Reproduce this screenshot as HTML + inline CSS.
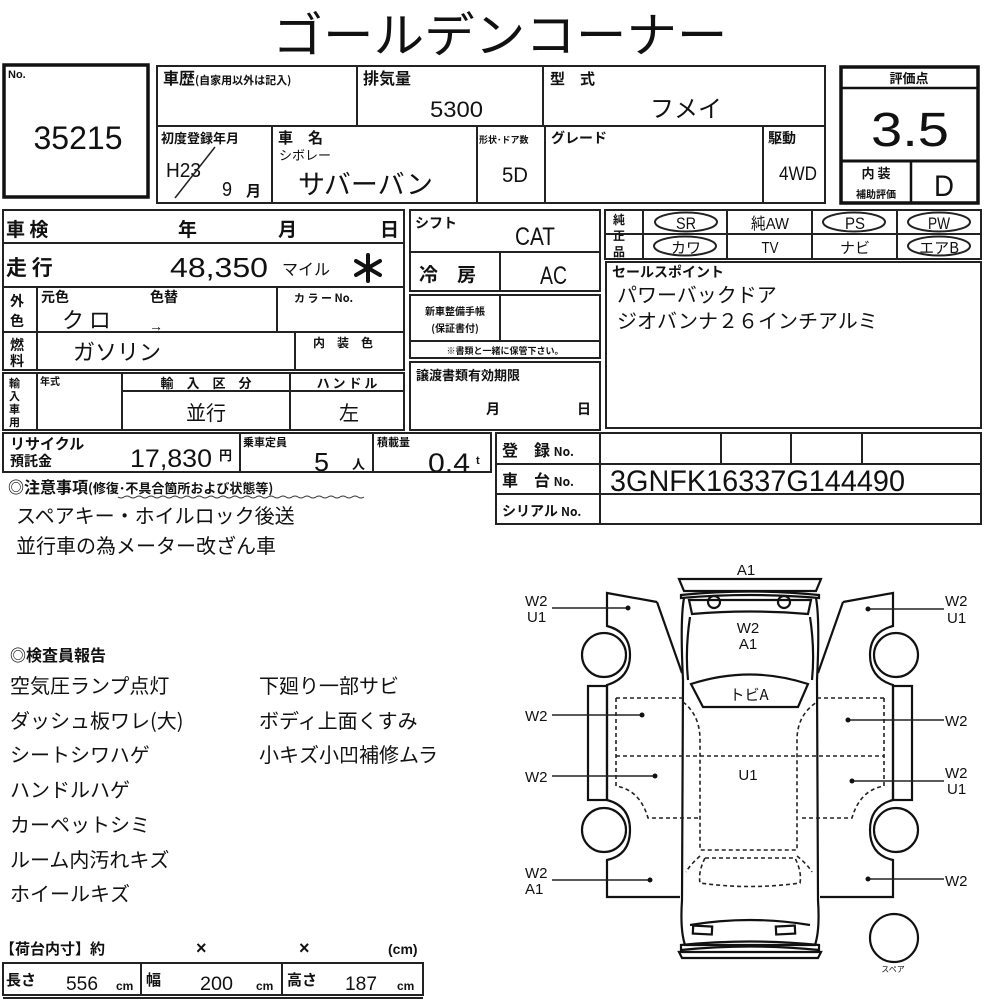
<!DOCTYPE html>
<html><head><meta charset="utf-8"><style>
html,body{margin:0;padding:0;background:#fff;}
svg{display:block;}
text{font-family:"Liberation Sans","Noto Sans CJK JP",sans-serif;fill:#111;}
.j{font-family:"Noto Sans CJK JP",sans-serif;}
.b{font-weight:bold;}
.n{font-family:"Liberation Sans","Noto Sans CJK JP",sans-serif;}
.l{fill:none;stroke:#222;stroke-width:2;}
.t{fill:none;stroke:#111;stroke-width:3.5;}
.d{fill:none;stroke:#222;stroke-width:1.6;stroke-dasharray:4 3;}
</style></head><body>
<svg width="1000" height="1000" viewBox="0 0 1000 1000" xmlns="http://www.w3.org/2000/svg">
<text x="500" y="52" text-anchor="middle" font-size="48" class="j" textLength="455" lengthAdjust="spacingAndGlyphs">ゴールデンコーナー</text>

<rect x="4" y="65" width="144" height="132" class="t"/>
<text x="8" y="78" font-size="11" class="b">No.</text>
<text x="78" y="149" font-size="32" text-anchor="middle">35215</text>

<rect x="157" y="66" width="668" height="137" class="l"/>
<line x1="157" y1="126" x2="825" y2="126" class="l"/>
<line x1="357" y1="66" x2="357" y2="126" class="l"/>
<line x1="543" y1="66" x2="543" y2="126" class="l"/>
<line x1="272" y1="126" x2="272" y2="203" class="l"/>
<line x1="477" y1="126" x2="477" y2="203" class="l"/>
<line x1="545" y1="126" x2="545" y2="203" class="l"/>
<line x1="763" y1="126" x2="763" y2="203" class="l"/>
<text x="163" y="84" font-size="16" class="b j">車歴<tspan font-size="11">(自家用以外は記入)</tspan></text>
<text x="363" y="84" font-size="16" class="b j">排気量</text>
<text x="430" y="117" font-size="22" textLength="53" lengthAdjust="spacingAndGlyphs">5300</text>
<text x="550" y="84" font-size="15" class="b j">型　式</text>
<text x="650" y="117" font-size="24" class="j">フメイ</text>
<text x="161" y="143" font-size="13" class="b j">初度登録年月</text>
<text x="166" y="177" font-size="20" textLength="35" lengthAdjust="spacingAndGlyphs">H23</text>
<line x1="215" y1="147" x2="175" y2="198" stroke="#222" stroke-width="1.5"/>
<text x="222" y="196" font-size="20" textLength="10" lengthAdjust="spacingAndGlyphs">9</text>
<text x="246" y="196" font-size="15" class="b j">月</text>
<text x="278" y="143" font-size="15" class="b j">車　名</text>
<text x="279" y="160" font-size="13" class="j">シボレー</text>
<text x="298" y="194" font-size="27" class="j">サバーバン</text>
<text x="479" y="143" font-size="9" class="b j">形状･ドア数</text>
<text x="502" y="182" font-size="21" textLength="26" lengthAdjust="spacingAndGlyphs">5D</text>
<text x="551" y="143" font-size="14" class="b j">グレード</text>
<text x="768" y="143" font-size="14" class="b j">駆動</text>
<text x="779" y="180" font-size="19" textLength="38" lengthAdjust="spacingAndGlyphs">4WD</text>

<rect x="841" y="67" width="137" height="136" class="t"/>
<line x1="841" y1="88" x2="978" y2="88" stroke="#111" stroke-width="2.5"/>
<line x1="841" y1="161" x2="978" y2="161" stroke="#111" stroke-width="3"/>
<line x1="911" y1="161" x2="911" y2="203" stroke="#111" stroke-width="2.5"/>
<text x="909" y="83" font-size="13" text-anchor="middle" class="b j">評価点</text>
<text x="910" y="146" font-size="48" text-anchor="middle" textLength="78" lengthAdjust="spacingAndGlyphs">3.5</text>
<text x="876" y="178" font-size="13" text-anchor="middle" class="b j">内 装</text>
<text x="876" y="198" font-size="10" text-anchor="middle" class="b j">補助評価</text>
<text x="944" y="196" font-size="30" text-anchor="middle" textLength="20" lengthAdjust="spacingAndGlyphs">D</text>

<rect x="3" y="210" width="401" height="160" class="l"/>
<line x1="3" y1="243" x2="404" y2="243" class="l"/>
<line x1="3" y1="287" x2="404" y2="287" class="l"/>
<line x1="3" y1="332" x2="404" y2="332" class="l"/>
<line x1="37" y1="287" x2="37" y2="370" class="l"/>
<line x1="277" y1="287" x2="277" y2="332" class="l"/>
<line x1="295" y1="332" x2="295" y2="370" class="l"/>
<text x="6" y="236" font-size="19" class="b j">車 検</text>
<text x="178" y="236" font-size="19" class="b j">年</text>
<text x="278" y="236" font-size="19" class="b j">月</text>
<text x="380" y="236" font-size="19" class="b j">日</text>
<text x="6" y="275" font-size="21" class="b j">走 行</text>
<text x="170" y="277" font-size="28" textLength="98" lengthAdjust="spacingAndGlyphs">48,350</text>
<text x="282" y="275" font-size="16" class="j">マイル</text>
<g stroke="#111" stroke-width="4" stroke-linecap="round">
<line x1="368" y1="255" x2="368" y2="281"/>
<line x1="356" y1="261" x2="380" y2="275"/>
<line x1="356" y1="275" x2="380" y2="261"/>
</g>
<text x="10" y="306" font-size="14" class="b j">外</text>
<text x="10" y="326" font-size="14" class="b j">色</text>
<text x="41" y="302" font-size="14" class="b j">元色</text>
<text x="150" y="302" font-size="14" class="b j">色替</text>
<text x="62" y="328" font-size="22" class="j">ク ロ</text>
<text x="149" y="331" font-size="14" class="b">→</text>
<text x="294" y="302" font-size="11" class="b j">カ ラ ー No.</text>
<text x="10" y="350" font-size="14" class="b j">燃</text>
<text x="10" y="366" font-size="14" class="b j">料</text>
<text x="73" y="360" font-size="22" class="j">ガソリン</text>
<text x="313" y="347" font-size="12" class="b j">内　装　色</text>

<rect x="3" y="373" width="401" height="57" class="l"/>
<line x1="37" y1="373" x2="37" y2="430" class="l"/>
<line x1="122" y1="373" x2="122" y2="430" class="l"/>
<line x1="290" y1="373" x2="290" y2="430" class="l"/>
<line x1="122" y1="391" x2="404" y2="391" class="l"/>
<text x="9" y="387" font-size="11" class="b j">輸</text>
<text x="9" y="400" font-size="11" class="b j">入</text>
<text x="9" y="413" font-size="11" class="b j">車</text>
<text x="9" y="426" font-size="11" class="b j">用</text>
<text x="40" y="385" font-size="10" class="b j">年式</text>
<text x="206" y="388" font-size="13" text-anchor="middle" class="b j">輸　入　区　分</text>
<text x="347" y="388" font-size="13" text-anchor="middle" class="b j">ハ ン ド ル</text>
<text x="206" y="420" font-size="20" text-anchor="middle" class="j">並行</text>
<text x="349" y="420" font-size="20" text-anchor="middle" class="j">左</text>

<rect x="3" y="433" width="488" height="39" class="l"/>
<line x1="240" y1="433" x2="240" y2="472" class="l"/>
<line x1="373" y1="433" x2="373" y2="472" class="l"/>
<text x="10" y="449" font-size="15" class="b j">リサイクル</text>
<text x="10" y="466" font-size="14" class="b j">預託金</text>
<text x="130" y="467" font-size="25" textLength="82" lengthAdjust="spacingAndGlyphs">17,830</text>
<text x="219" y="460" font-size="13" class="b j">円</text>
<text x="243" y="446" font-size="11" class="b j">乗車定員</text>
<text x="314" y="471" font-size="26" textLength="15" lengthAdjust="spacingAndGlyphs">5</text>
<text x="352" y="469" font-size="13" class="b j">人</text>
<text x="377" y="446" font-size="11" class="b j">積載量</text>
<text x="428" y="472" font-size="27" textLength="42" lengthAdjust="spacingAndGlyphs">0.4</text>
<text x="476" y="464" font-size="11" class="b">t</text>

<rect x="410" y="210" width="190" height="81" class="l"/>
<line x1="410" y1="252" x2="600" y2="252" class="l"/>
<line x1="500" y1="252" x2="500" y2="291" class="l"/>
<text x="415" y="228" font-size="14" class="b j">シフト</text>
<text x="515" y="245" font-size="25" textLength="40" lengthAdjust="spacingAndGlyphs">CAT</text>
<text x="419" y="281" font-size="19" class="b j">冷　房</text>
<text x="540" y="284" font-size="25" textLength="27" lengthAdjust="spacingAndGlyphs">AC</text>
<rect x="410" y="295" width="190" height="63" class="l"/>
<line x1="410" y1="341" x2="600" y2="341" class="l"/>
<line x1="500" y1="295" x2="500" y2="341" class="l"/>
<text x="455" y="315" font-size="10" text-anchor="middle" class="b j">新車整備手帳</text>
<text x="455" y="332" font-size="10" text-anchor="middle" class="b j">(保証書付)</text>
<text x="505" y="354" font-size="9" text-anchor="middle" class="b j">※書類と一緒に保管下さい。</text>
<rect x="410" y="362" width="190" height="68" class="l"/>
<text x="416" y="380" font-size="13" class="b j">譲渡書類有効期限</text>
<text x="486" y="414" font-size="14" class="b j">月</text>
<text x="577" y="414" font-size="14" class="b j">日</text>

<rect x="605" y="210" width="376" height="49" class="l"/>
<line x1="605" y1="234" x2="981" y2="234" class="l"/>
<line x1="643" y1="210" x2="643" y2="259" class="l"/>
<line x1="727" y1="210" x2="727" y2="259" class="l"/>
<line x1="812" y1="210" x2="812" y2="259" class="l"/>
<line x1="897" y1="210" x2="897" y2="259" class="l"/>
<text x="613" y="224" font-size="12" class="b j">純</text>
<text x="613" y="240" font-size="12" class="b j">正</text>
<text x="613" y="256" font-size="12" class="b j">品</text>
<ellipse cx="686" cy="222" rx="31" ry="9.5" class="l" stroke-width="1.6"/>
<ellipse cx="854" cy="222" rx="31" ry="9.5" class="l" stroke-width="1.6"/>
<ellipse cx="939" cy="222" rx="31" ry="9.5" class="l" stroke-width="1.6"/>
<ellipse cx="685" cy="246" rx="31" ry="9.5" class="l" stroke-width="1.6"/>
<ellipse cx="939" cy="246" rx="31" ry="9.5" class="l" stroke-width="1.6"/>
<text x="686" y="229" font-size="17" text-anchor="middle" textLength="20" lengthAdjust="spacingAndGlyphs">SR</text>
<text x="770" y="229" font-size="16" text-anchor="middle" textLength="38" lengthAdjust="spacingAndGlyphs">純AW</text>
<text x="855" y="229" font-size="17" text-anchor="middle" textLength="20" lengthAdjust="spacingAndGlyphs">PS</text>
<text x="939" y="229" font-size="17" text-anchor="middle" textLength="22" lengthAdjust="spacingAndGlyphs">PW</text>
<text x="686" y="253" font-size="15" text-anchor="middle" class="j">カワ</text>
<text x="770" y="253" font-size="16" text-anchor="middle" textLength="17" lengthAdjust="spacingAndGlyphs">TV</text>
<text x="855" y="253" font-size="15" text-anchor="middle" class="j">ナビ</text>
<text x="939" y="253" font-size="15" text-anchor="middle" class="j">エアB</text>

<rect x="606" y="262" width="375" height="166" class="l"/>
<text x="612" y="277" font-size="14" class="b j">セールスポイント</text>
<text x="617" y="302" font-size="20" class="j">パワーバックドア</text>
<text x="617" y="328" font-size="20" class="j">ジオバンナ２６インチアルミ</text>

<rect x="496" y="433" width="485" height="91" class="l"/>
<line x1="496" y1="464" x2="981" y2="464" class="l"/>
<line x1="496" y1="494" x2="981" y2="494" class="l"/>
<line x1="600" y1="433" x2="600" y2="524" class="l"/>
<line x1="721" y1="433" x2="721" y2="464" class="l"/>
<line x1="791" y1="433" x2="791" y2="464" class="l"/>
<line x1="862" y1="433" x2="862" y2="464" class="l"/>
<text x="502" y="456" font-size="16" class="b j">登　録 <tspan font-size="12">No.</tspan></text>
<text x="502" y="486" font-size="16" class="b j">車　台 <tspan font-size="12">No.</tspan></text>
<text x="502" y="516" font-size="14" class="b j">シリアル <tspan font-size="12">No.</tspan></text>
<text x="610" y="491" font-size="30" textLength="295" lengthAdjust="spacingAndGlyphs">3GNFK16337G144490</text>

<text x="8" y="493" font-size="16" class="b j">◎注意事項<tspan font-size="13">(修復･不具合箇所および状態等)</tspan></text>
<path d="M118 497 q3 2 6 0 t6 0 t6 0 t6 0 t6 0 t6 0 t6 0 t6 0 t6 0 t6 0 t6 0 t6 0 t6 0 t6 0 t6 0 t6 0 t6 0 t6 0 t6 0 t6 0 t6 0 t6 0 t6 0 t6 0 t6 0 t6 0 t6 0 t6 0 t6 0 t6 0 t6 0 t6 0 t6 0 t6 0 t6 0 t6 0 t6 0 t6 0 t6 0 t6 0 t6 0" fill="none" stroke="#333" stroke-width="1"/>
<text x="16" y="523" font-size="20" class="j">スペアキー・ホイルロック後送</text>
<text x="16" y="553" font-size="20" class="j">並行車の為メーター改ざん車</text>

<text x="10" y="661" font-size="16" class="b j">◎検査員報告</text>
<g font-size="20" class="j">
<text x="10" y="693" class="j">空気圧ランプ点灯</text>
<text x="10" y="728" class="j">ダッシュ板ワレ(大)</text>
<text x="10" y="762" class="j">シートシワハゲ</text>
<text x="10" y="797" class="j">ハンドルハゲ</text>
<text x="10" y="832" class="j">カーペットシミ</text>
<text x="10" y="867" class="j">ルーム内汚れキズ</text>
<text x="10" y="901" class="j">ホイールキズ</text>
<text x="259" y="693" class="j">下廻り一部サビ</text>
<text x="259" y="728" class="j">ボディ上面くすみ</text>
<text x="259" y="762" class="j">小キズ小凹補修ムラ</text>
</g>

<text x="0" y="954" font-size="15" class="b j">【荷台内寸】約</text>
<text x="196" y="954" font-size="18" class="b">×</text>
<text x="299" y="954" font-size="18" class="b">×</text>
<text x="388" y="954" font-size="14" class="b">(cm)</text>
<rect x="3" y="963" width="420" height="32" class="l"/>
<line x1="141" y1="963" x2="141" y2="995" class="l"/>
<line x1="282" y1="963" x2="282" y2="995" class="l"/>
<line x1="3" y1="998" x2="423" y2="998" class="l"/>
<text x="6" y="985" font-size="15" class="b j">長さ</text>
<text x="66" y="990" font-size="19" textLength="32" lengthAdjust="spacingAndGlyphs">556</text>
<text x="116" y="990" font-size="12" class="b">cm</text>
<text x="146" y="985" font-size="15" class="b j">幅</text>
<text x="200" y="990" font-size="19" textLength="33" lengthAdjust="spacingAndGlyphs">200</text>
<text x="256" y="990" font-size="12" class="b">cm</text>
<text x="287" y="985" font-size="15" class="b j">高さ</text>
<text x="345" y="990" font-size="19" textLength="32" lengthAdjust="spacingAndGlyphs">187</text>
<text x="397" y="990" font-size="12" class="b">cm</text>

<g stroke="#111" stroke-width="2.2" fill="none">
<path d="M679 579 L821 579 L816 591 L684 591 Z"/>
<path d="M681 595 Q750 588 819 595 L819 598 Q750 592 681 598 Z"/>
<path d="M689 600 L811 600 L808 614 Q750 609 692 614 Z"/>
<circle cx="714" cy="602" r="6"/>
<circle cx="784" cy="602" r="6"/>
<path d="M684 598 Q680 620 683 680 L682 900 Q680 930 685 945 L815 945 Q820 930 818 900 L817 680 Q820 620 816 598"/>
<path d="M690 617 Q685 650 688 680"/>
<path d="M810 617 Q815 650 812 680"/>
<path d="M690 925 Q750 915 810 925"/>
<path d="M691 684 Q750 665 808 684 L798 707 L703 707 Z"/>
<path d="M681 945 Q750 938 819 945 L819 950 Q750 943 681 950 Z"/>
<path d="M679 952 L821 952 L818 958 L682 958 Z"/>
<rect x="693" y="926" width="19" height="8" transform="rotate(3 702 930)"/>
<rect x="776" y="926" width="19" height="8" transform="rotate(-3 786 930)"/>
<path d="M657 602 L607 593 L607 626 Q630 632 630 655 Q630 678 607 685 L607 800 Q630 806 630 830 Q630 855 607 860 L607 897 L680 897 M682 673 L657 602"/>
<rect x="588" y="686" width="19" height="114"/>
<circle cx="604" cy="655" r="22"/>
<circle cx="604" cy="830" r="22"/>
<path d="M843 602 L893 593 L893 626 Q870 632 870 655 Q870 678 893 685 L893 800 Q870 806 870 830 Q870 855 893 860 L893 897 L820 897 M818 673 L843 602"/>
<rect x="893" y="686" width="19" height="114"/>
<circle cx="896" cy="655" r="22"/>
<circle cx="896" cy="830" r="22"/>
<circle cx="894" cy="938" r="24"/>
</g>
<g class="d">
<path d="M616 698 L683 698 M616 698 L616 786 Q640 790 648 818 L700 818 M616 756 L884 756"/>
<path d="M884 698 L817 698 M884 698 L884 786 Q860 790 852 818 L800 818"/>
<path d="M683 702 Q700 715 700 740 L700 850 L797 850 L797 740 Q797 715 817 702"/>
<path d="M700 856 Q690 865 686 872 M797 856 Q808 865 812 872"/>
<path d="M705 858 L795 858 Q802 872 800 883 Q750 890 700 883 Q698 872 705 858 Z"/>
</g>
<g stroke="#222" stroke-width="1.5">
<line x1="552" y1="608" x2="628" y2="608"/>
<line x1="552" y1="715" x2="642" y2="715"/>
<line x1="552" y1="776" x2="655" y2="776"/>
<line x1="552" y1="880" x2="650" y2="880"/>
<line x1="868" y1="609" x2="944" y2="609"/>
<line x1="848" y1="720" x2="944" y2="720"/>
<line x1="852" y1="781" x2="944" y2="781"/>
<line x1="868" y1="879" x2="944" y2="879"/>
</g>
<g fill="#111">
<circle cx="628" cy="608" r="2.5"/><circle cx="642" cy="715" r="2.5"/><circle cx="655" cy="776" r="2.5"/><circle cx="650" cy="880" r="2.5"/>
<circle cx="868" cy="609" r="2.5"/><circle cx="848" cy="720" r="2.5"/><circle cx="852" cy="781" r="2.5"/><circle cx="868" cy="879" r="2.5"/>
</g>
<g font-size="15">
<text x="525" y="606">W2</text><text x="527" y="622">U1</text>
<text x="525" y="721">W2</text>
<text x="525" y="782">W2</text>
<text x="525" y="878">W2</text><text x="525" y="894">A1</text>
<text x="945" y="606">W2</text><text x="947" y="623">U1</text>
<text x="945" y="726">W2</text>
<text x="945" y="778">W2</text><text x="947" y="794">U1</text>
<text x="945" y="886">W2</text>
<text x="746" y="575" text-anchor="middle">A1</text>
<text x="748" y="633" text-anchor="middle">W2</text>
<text x="748" y="649" text-anchor="middle">A1</text>
<text x="748" y="780" text-anchor="middle">U1</text>
<text x="749" y="700" text-anchor="middle" class="j">トビA</text>
</g>
<text x="893" y="972" font-size="8" text-anchor="middle" class="j">スペア</text>
</svg>
</body></html>
